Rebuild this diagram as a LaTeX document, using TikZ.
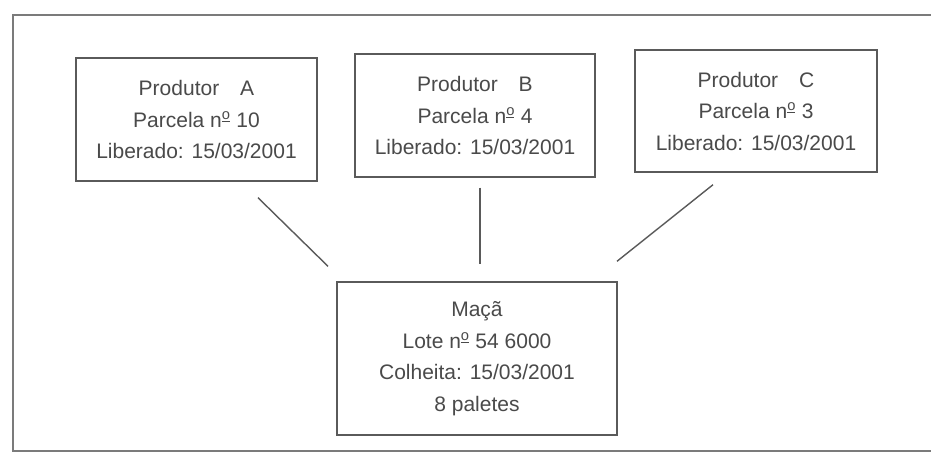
\documentclass[tikz,border=0pt]{standalone}
\usepackage{fontspec}
\setmainfont{Liberation Sans}
\usetikzlibrary{calc}
\definecolor{inkgray}{HTML}{4A4A4A}
\definecolor{linegray}{HTML}{5A5A5A}
\newcommand{\myno}{n\textsuperscript{\underline{o}}}
\tikzset{
  box/.style={draw=linegray, line width=1.4pt, rectangle, inner sep=0pt,
    align=center, text=inkgray, font=\fontsize{21}{31.5}\selectfont},
  link/.style={draw=linegray, line width=1.4pt},
  frame/.style={draw=linegray!80, line width=1.6pt}
}
\begin{document}
\begin{tikzpicture}[x=1pt,y=-1pt]
\useasboundingbox (0,0) rectangle (931,455);
\fill[white] (0,0) rectangle (931,455);
\draw[frame] (931,15) -- (13,15) -- (13,451) -- (931,451);

\node[box, minimum width=241pt, minimum height=123pt] (A) at (196.5,119.5)
  {Produtor\quad A\\Parcela \myno{} 10\\Liberado: 15/03/2001};
\node[box, minimum width=240pt, minimum height=123pt] (B) at (475,115.5)
  {Produtor\quad B\\Parcela \myno{} 4\\Liberado: 15/03/2001};
\node[box, minimum width=242pt, minimum height=122pt] (C) at (756,111)
  {Produtor\quad C\\Parcela \myno{} 3\\Liberado: 15/03/2001};
\node[box, minimum width=280pt, minimum height=153pt] (M) at (477,358.5)
  {Maçã\\Lote \myno{} 54 6000\\Colheita: 15/03/2001\\8 paletes};

\coordinate (a1) at ($(A.south)+(61.5,16)$);
\coordinate (m1) at ($(M.north)+(-149,-15)$);
\coordinate (b1) at ($(B.south)+(5,10)$);
\coordinate (m2) at ($(M.north)+(3,-17)$);
\coordinate (c1) at ($(C.south)+(-43,12)$);
\coordinate (m3) at ($(M.north)+(140,-20)$);

\draw[link] (a1) -- (m1);
\draw[link] (b1) -- (m2);
\draw[link] (c1) -- (m3);
\end{tikzpicture}
\end{document}
